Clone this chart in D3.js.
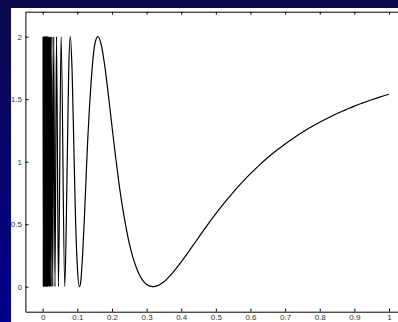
<!DOCTYPE html>
<html>
<head>
<meta charset="utf-8">
<script src="https://cdn.jsdelivr.net/npm/d3@7"></script>
<style>
  body { margin: 0; }
  svg { display: block; }
  text { font-family: "Liberation Sans", Arial, sans-serif; }
</style>
</head>
<body>
<svg width="398" height="322"></svg>
<script>
// curve points
var curveX = [0.0010, 0.0016, 0.0022, 0.0028, 0.0034, 0.0040, 0.0046, 0.0052, 0.0058, 0.0064,
              0.0070, 0.0076, 0.0082, 0.0088, 0.0094, 0.0100, 0.0106, 0.0110, 0.0114, 0.0118,
              0.0122, 0.0127, 0.0133, 0.0138, 0.0145, 0.0152, 0.0159, 0.0168, 0.0177, 0.0187,
              0.0199, 0.0212, 0.0227, 0.0245, 0.0265, 0.0289, 0.0318, 0.0354, 0.0398, 0.0455,
              0.0531, 0.0637, 0.0700, 0.0750, 0.0796, 0.0850, 0.0900, 0.0950, 0.1000, 0.1061,
              0.110, 0.115, 0.120, 0.125, 0.130, 0.135, 0.140, 0.145, 0.150, 0.1592,
              0.170, 0.180, 0.190, 0.200, 0.210, 0.220, 0.230, 0.240, 0.250, 0.260,
              0.270, 0.280, 0.290, 0.300, 0.3183, 0.325, 0.350, 0.375, 0.400, 0.425,
              0.450, 0.475, 0.500, 0.525, 0.550, 0.575, 0.600, 0.625, 0.650, 0.675,
              0.700, 0.725, 0.750, 0.775, 0.800, 0.825, 0.850, 0.875, 0.900, 0.925,
              0.950, 0.975, 1.000];
var curveY = [2, 0, 2, 0, 2, 0, 2, 0, 2, 0,
              2, 0, 2, 0, 2, 0, 2, 0, 2, 0,
              2, 0, 2, 0, 2, 0, 2, 0, 2, 0,
              2, 0, 2, 0, 2, 0, 2, 0, 2, 0,
              2, 0, 0.85, 1.72, 2, 1.71, 1.11, 0.52, 0.16, 0,
              0.045, 0.246, 0.530, 0.855, 1.175, 1.433, 1.646, 1.817, 1.932, 2,
              1.923, 1.750, 1.524, 1.284, 1.050, 0.831, 0.644, 0.484, 0.346, 0.238,
              0.156, 0.092, 0.047, 0.018, 0, 0.002, 0.040, 0.111, 0.199, 0.295,
              0.393, 0.491, 0.584, 0.672, 0.755, 0.832, 0.904, 0.971, 1.033, 1.089,
              1.142, 1.190, 1.235, 1.277, 1.315, 1.351, 1.385, 1.415, 1.445, 1.471,
              1.496, 1.519, 1.540];
var xTicks = [0, 0.1, 0.2, 0.3, 0.4, 0.5, 0.6, 0.7, 0.8, 0.9, 1];
var yTicks = [0, 0.5, 1, 1.5, 2];

var svg = d3.select("svg");

var grad = svg.append("defs").append("linearGradient")
    .attr("id", "bg").attr("x1", 0).attr("y1", 0).attr("x2", 0).attr("y2", 1);
grad.append("stop").attr("offset", "0%").attr("stop-color", "#0a0a4c");
grad.append("stop").attr("offset", "100%").attr("stop-color", "#00008e");

svg.append("rect").attr("width", 398).attr("height", 322).attr("fill", "url(#bg)");
svg.append("rect").attr("x", 11).attr("y", 8).attr("width", 387).attr("height", 314).attr("fill", "#fff");

var xScale = d3.scaleLinear().domain([-0.05, 1.05]).range([25.4, 406.3]),
    yScale = d3.scaleLinear().domain([-0.2, 2.2]).range([311.7, 11.7]);

var g = svg.append("g");

var line = d3.line()
    .x(function(d) { return xScale(d[0]); })
    .y(function(d) { return yScale(d[1]); })
    .curve(d3.curveMonotoneX);

g.append("path")
 .datum(curveX.map(function(x, i) { return [x, curveY[i]]; }))
 .attr("fill", "none")
 .attr("stroke", "#000")
 .attr("stroke-width", 1.2)
 .attr("d", line);

// axes: inward ticks
g.append("g")
 .attr("transform", "translate(0," + yScale(-0.2) + ")")
 .call(d3.axisBottom(xScale).tickValues(xTicks).tickSizeInner(-3).tickSizeOuter(0).tickPadding(3)
       .tickFormat(function(d) { return d; }));

g.append("g")
 .attr("transform", "translate(0," + yScale(2.2) + ")")
 .call(d3.axisTop(xScale).tickValues(xTicks).tickSizeInner(-3).tickSizeOuter(0).tickFormat(""));

g.append("g")
 .attr("transform", "translate(" + xScale(-0.05) + ",0)")
 .call(d3.axisLeft(yScale).tickValues(yTicks).tickSizeInner(-3).tickSizeOuter(0).tickPadding(3.5)
       .tickFormat(function(d) { return d; }));

g.selectAll(".domain").attr("stroke", "#000");
g.selectAll(".tick line").attr("stroke", "#000");
g.selectAll(".tick text").attr("fill", "#333").style("font-size", "8px");
</script>
</body>
</html>
